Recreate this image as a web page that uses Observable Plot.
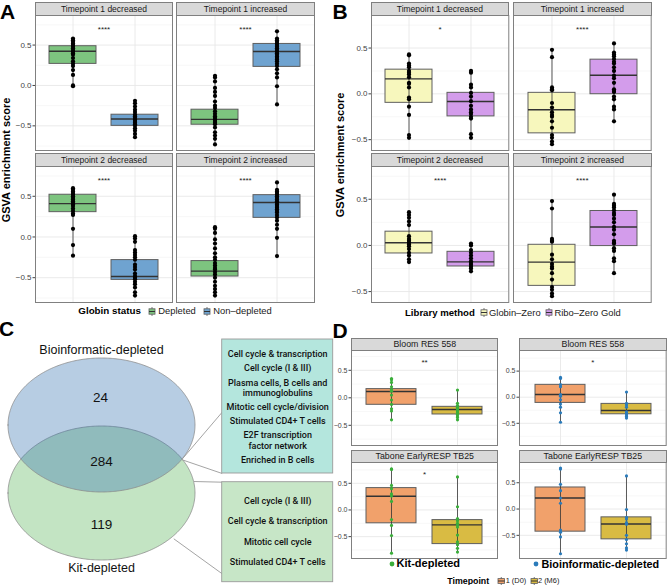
<!DOCTYPE html>
<html><head><meta charset="utf-8">
<script src="https://cdn.jsdelivr.net/npm/d3@7"></script>
<script src="https://cdn.jsdelivr.net/npm/@observablehq/plot@0.6"></script>
<style>
html,body{margin:0;padding:0;background:#fff;}
#fig{position:relative;width:668px;height:585px;overflow:hidden;font-family:"Liberation Sans",Arial,Helvetica,sans-serif;color:#1a1a1a;}
.strip{position:absolute;box-sizing:border-box;background:#d9d9d9;border:1px solid #7f7f7f;color:#1a1a1a;text-align:center;white-space:nowrap;overflow:hidden;}
.t{position:absolute;white-space:nowrap;line-height:1.2;}
</style></head>
<body><div id="fig"></div>
<script>
// ---------------- DATA ----------------
// Panel A: globin status
const aFacets = ["Timepoint 1 decreased","Timepoint 1 increased","Timepoint 2 decreased","Timepoint 2 increased"];
const aGroups = ["Depleted","Non–depleted"];
const aStars = ["****","****","****","****"];
const a1Dep = [0.58,0.56,0.54,0.52,0.50,0.48,0.46,0.44,0.42,0.40,0.38,0.34,0.30,0.27,0.24,0.19,0.13,0.00,-0.01];
const a1Non = [-0.19,-0.22,-0.26,-0.30,-0.33,-0.36,-0.38,-0.40,-0.42,-0.44,-0.46,-0.48,-0.50,-0.53,-0.56,-0.60,-0.64];
const a2Dep = [0.12,0.10,0.05,-0.03,-0.08,-0.13,-0.20,-0.25,-0.28,-0.32,-0.35,-0.38,-0.40,-0.42,-0.44,-0.46,-0.48,-0.52,-0.58,-0.62,-0.66,-0.73];
const a2Non = [0.67,0.58,0.56,0.54,0.52,0.50,0.48,0.46,0.44,0.42,0.40,0.38,0.36,0.34,0.32,0.30,0.27,0.24,0.20,0.15,0.10,-0.01,-0.235];
const a3Dep = [0.60,0.58,0.56,0.54,0.52,0.50,0.48,0.46,0.44,0.42,0.40,0.38,0.35,0.32,0.29,0.27,0.10,-0.10,-0.23];
const a3Non = [0.01,-0.02,-0.06,-0.16,-0.19,-0.22,-0.25,-0.28,-0.34,-0.37,-0.40,-0.45,-0.48,-0.50,-0.52,-0.55,-0.58,-0.62,-0.68,-0.72];
const a4Dep = [0.12,0.10,0.05,-0.03,-0.08,-0.14,-0.20,-0.25,-0.28,-0.32,-0.35,-0.38,-0.40,-0.43,-0.46,-0.50,-0.55,-0.60,-0.64,-0.68,-0.72];
const a4Non = [0.67,0.58,0.56,0.54,0.52,0.50,0.48,0.46,0.44,0.42,0.40,0.38,0.36,0.34,0.32,0.30,0.27,0.24,0.20,0.15,0.10,-0.01,-0.235];
// box stats: [lower whisker, Q1, median, Q3, upper whisker]
const a1Box = [[-0.01,0.267,0.424,0.486,0.58],[-0.64,-0.50,-0.415,-0.362,-0.19]];
const a2Box = [[-0.73,-0.486,-0.42,-0.30,0.12],[-0.235,0.23,0.42,0.514,0.67]];
const a3Box = [[-0.23,0.305,0.41,0.519,0.60],[-0.72,-0.527,-0.486,-0.284,0.01]];
const a4Box = [[-0.72,-0.486,-0.42,-0.296,0.12],[-0.235,0.235,0.424,0.514,0.67]];

// Panel B: library method
const bFacets = ["Timepoint 1 decreased","Timepoint 1 increased","Timepoint 2 decreased","Timepoint 2 increased"];
const bGroups = ["Globin–Zero","Ribo–Zero Gold"];
const bStars = ["*","****","****","****"];
const b1Glo = [0.43,0.42,0.33,0.31,0.29,0.25,0.23,0.21,0.18,0.12,0.11,0.07,-0.04,-0.06,-0.14,-0.23,-0.45,-0.48];
const b1Rib = [0.25,0.23,0.10,0.07,0.01,-0.03,-0.08,-0.13,-0.17,-0.20,-0.22,-0.25,-0.27,-0.44,-0.48];
const b2Glo = [0.48,0.40,0.07,0.05,0.04,-0.10,-0.15,-0.20,-0.23,-0.25,-0.30,-0.37,-0.45,-0.48,-0.52,-0.55];
const b2Rib = [0.55,0.45,0.43,0.41,0.38,0.35,0.33,0.29,0.25,0.20,0.17,0.12,0.05,0.03,0.02,-0.03,-0.06,-0.14,-0.17,-0.30];
const b3Glo = [0.36,0.33,0.30,0.26,0.22,0.10,0.07,0.05,0.03,0.01,-0.01,-0.04,-0.08,-0.11,-0.15,-0.18];
const b3Rib = [0.02,0.00,-0.05,-0.08,-0.11,-0.14,-0.17,-0.19,-0.21,-0.23,-0.25,-0.28];
const b4Glo = [0.48,0.40,0.07,0.05,0.04,-0.10,-0.15,-0.20,-0.23,-0.25,-0.30,-0.37,-0.45,-0.48,-0.52,-0.55];
const b4Rib = [0.55,0.45,0.43,0.41,0.38,0.35,0.33,0.29,0.25,0.20,0.17,0.12,0.05,0.03,0.02,-0.03,-0.06,-0.14,-0.17,-0.30];
const b1Box = [[-0.48,-0.098,0.163,0.264,0.43],[-0.48,-0.246,-0.083,0.011,0.25]];
const b2Box = [[-0.55,-0.431,-0.174,0.011,0.48],[-0.30,-0.004,0.203,0.373,0.55]];
const b3Box = [[-0.18,-0.087,0.029,0.149,0.36],[-0.28,-0.228,-0.178,-0.069,0.02]];
const b4Box = [[-0.55,-0.438,-0.181,0.007,0.48],[-0.30,-0.007,0.20,0.373,0.55]];

// Panel C: Venn diagram
const vennSets = ["Bioinformatic-depleted","Kit-depleted"];
const vennCounts = [24, 284, 119]; // bio only, both, kit only
const sharedTerms = ["Cell cycle & transcription","Cell cycle (I & III)","Plasma cells, B cells and\nimmunoglobulins","Mitotic cell cycle/division","Stimulated CD4+ T cells","E2F transcription\nfactor network","Enriched in B cells"];
const kitTerms = ["Cell cycle (I & III)","Cell cycle & transcription","Mitotic cell cycle","Stimulated CD4+ T cells"];

// Panel D: signatures by timepoint
const dFacets = ["Bloom RES 558","Bloom RES 558","Tabone EarlyRESP TB25","Tabone EarlyRESP TB25"];
const dGroups = ["1 (D0)","2 (M6)"];
const dMethods = ["Kit-depleted","Bioinformatic-depleted"];
const dStars = ["**","*","*",""];
const d1D0 = [0.35,0.33,0.28,0.20,0.15,0.12,0.05,-0.04,-0.12,-0.20,-0.24,-0.40];
const d1M6 = [0.14,-0.10,-0.14,-0.17,-0.20,-0.22,-0.24,-0.27,-0.30,-0.33,-0.36,-0.40];
const d2D0 = [0.38,0.36,0.24,0.20,0.05,0.02,-0.05,-0.13,-0.19,-0.30,-0.48];
const d2M6 = [0.10,-0.12,-0.15,-0.19,-0.28,-0.31,-0.34,-0.37,-0.40];
const d3D0 = [0.77,0.76,0.46,0.40,0.30,0.26,0.16,-0.18,-0.29,-0.48,-0.81];
const d3M6 = [0.62,0.06,-0.16,-0.20,-0.25,-0.28,-0.32,-0.47,-0.60,-0.65,-0.72,-0.79];
const d4D0 = [0.78,0.76,0.47,0.35,0.21,0.11,-0.40,-0.44,-0.53,-0.85];
const d4M6 = [0.63,-0.01,-0.16,-0.19,-0.26,-0.29,-0.50,-0.58,-0.66,-0.74,-0.78];
const d1Box = [[-0.40,-0.127,0.115,0.158,0.35],[-0.40,-0.303,-0.212,-0.164,0.14]];
const d2Box = [[-0.48,-0.109,0.051,0.237,0.38],[-0.40,-0.327,-0.256,-0.128,0.10]];
const d3Box = [[-0.81,-0.25,0.256,0.41,0.77],[-0.79,-0.64,-0.28,-0.19,0.62]];
const d4Box = [[-0.85,-0.43,0.209,0.41,0.78],[-0.78,-0.576,-0.285,-0.158,0.63]];

const majorTicks = [-0.5, 0, 0.5];
const minorTicks = [-0.75, -0.25, 0.25, 0.75];

// ---------------- STYLE / LAYOUT ----------------
const FONT = '"Liberation Sans", Arial, Helvetica, sans-serif';
const colA = ["#7dc47f","#6fa3d0"];
const colB = ["#f7f7bd","#d39ceb"];
const colD = ["#f1a16b","#d9bb43"];
const dotD = ["#3aae3a","#2b7bba"];
const fig = document.getElementById("fig");

function addText(txt, x, y, o = {}) {
  const d = document.createElement("div");
  d.className = "t";
  d.textContent = txt;
  d.style.left = x + "px";
  d.style.top = y + "px";
  d.style.fontSize = (o.size || 10) + "px";
  d.style.fontWeight = o.weight || "normal";
  d.style.color = o.color || "#1a1a1a";
  if (o.lh) d.style.lineHeight = o.lh;
  let tr = o.anchor === "middle" ? "translate(-50%,-50%)" : "translate(0,-50%)";
  if (o.rotate) tr += " rotate(" + o.rotate + "deg)";
  d.style.transform = tr;
  fig.appendChild(d);
  return d;
}

function addStrip(x0, x1, y0, y1, label, fs) {
  const d = document.createElement("div");
  d.className = "strip";
  d.style.left = x0 + "px";
  d.style.top = y0 + "px";
  d.style.width = (x1 - x0 + 1) + "px";
  d.style.height = (y1 - y0 + 1) + "px";
  d.style.lineHeight = (y1 - y0 - 1) + "px";
  d.style.fontSize = fs + "px";
  d.textContent = label;
  fig.appendChild(d);
}

function addFacet(c) {
  const mL = c.axis ? 30 : 1;
  const w = c.x1 - c.x0, h = c.y1 - c.y0;
  const stats = c.groups.map((g, i) => ({g, lo: c.box[i][0], q1: c.box[i][1], med: c.box[i][2], q3: c.box[i][3], hi: c.box[i][4], fill: c.fills[i]}));
  const dots = c.groups.flatMap((g, i) => c.pts[i].map(v => ({g, v})));
  const minor = minorTicks.filter(t => t > c.domain[0] && t < c.domain[1]);
  const svg = Plot.plot({
    width: w + mL + 1, height: h + 2,
    marginLeft: mL, marginRight: 1, marginTop: 1, marginBottom: 1,
    style: {background: "transparent", fontFamily: FONT, overflow: "visible"},
    x: {type: "band", domain: c.groups, paddingInner: 0.25, paddingOuter: 0.225, axis: null},
    y: {domain: c.domain, axis: null, label: null},
    color: {type: "identity"},
    marks: [
      Plot.gridY(minor, {stroke: "#f2f2f2", strokeOpacity: 1, strokeWidth: 0.6}),
      Plot.gridY(majorTicks, {stroke: "#e8e8e8", strokeOpacity: 1, strokeWidth: 0.9}),
      Plot.gridX(c.groups, {stroke: "#e8e8e8", strokeOpacity: 1, strokeWidth: 0.9}),
      Plot.barY(stats, {x: "g", y1: "q1", y2: "q3", fill: "fill", stroke: "#5e5e5e", strokeWidth: 1}),
      Plot.tickY(stats, {x: "g", y: "med", stroke: "#333", strokeWidth: 1.4}),
      Plot.ruleX(stats, {x: "g", y1: "lo", y2: "hi", stroke: "#333", strokeWidth: 0.8}),
      Plot.dot(dots, {x: "g", y: "v", r: c.dotR, fill: c.dotFill, stroke: "none"}),
      c.star ? Plot.text([c.star], {frameAnchor: "top", dy: c.starDy, fontSize: 8, fill: "#222"}) : null,
      c.axis ? Plot.axisY(majorTicks, {tickFormat: d3.format(".1f"), tickSize: 2.5, tickPadding: 1.5, fontSize: c.tickFs, color: "#444", label: null}) : null,
      Plot.frame({stroke: "#808080", strokeWidth: 1})
    ].filter(Boolean)
  });
  svg.style.position = "absolute";
  svg.style.left = (c.x0 - mL) + "px";
  svg.style.top = (c.y0 - 1) + "px";
  fig.appendChild(svg);
  addStrip(c.x0, c.x1, c.sy, c.y0, c.label, c.stripFs);
}

// ---------- Panel A ----------
const aCols = [[35, 172], [176, 314]];
const abRows = [[2, 15, 150], [153, 166, 302]];
const aPts = [[a1Dep, a1Non], [a2Dep, a2Non], [a3Dep, a3Non], [a4Dep, a4Non]];
const aBoxes = [a1Box, a2Box, a3Box, a4Box];
aFacets.forEach((label, i) => {
  const col = aCols[i % 2], row = abRows[Math.floor(i / 2)];
  addFacet({x0: col[0], x1: col[1], sy: row[0], y0: row[1], y1: row[2], domain: [-0.805, 0.866],
    groups: aGroups, box: aBoxes[i], pts: aPts[i], fills: colA, dotFill: "#000", dotR: 2.1,
    axis: i % 2 === 0, tickFs: 8, star: aStars[i], starDy: 11, label, stripFs: 8.5});
});

// ---------- Panel B ----------
const bCols = [[370.7, 508], [513, 650.7]];
const bPts = [[b1Glo, b1Rib], [b2Glo, b2Rib], [b3Glo, b3Rib], [b4Glo, b4Rib]];
const bBoxes = [b1Box, b2Box, b3Box, b4Box];
bFacets.forEach((label, i) => {
  const col = bCols[i % 2], row = abRows[Math.floor(i / 2)];
  addFacet({x0: col[0], x1: col[1], sy: row[0], y0: row[1], y1: row[2], domain: [-0.618, 0.855],
    groups: bGroups, box: bBoxes[i], pts: bPts[i], fills: colB, dotFill: "#000", dotR: 2.1,
    axis: i % 2 === 0, tickFs: 8, star: bStars[i], starDy: 11, label, stripFs: 8.5});
});

// ---------- Panel D ----------
const dCols = [[351.3, 497.3], [519, 665.7]];
const dRows = [[337.7, 350, 445], [450, 461.7, 557.7]];
const dDomains = [[-0.867, 0.86], [-0.925, 0.895], [-0.91, 0.89], [-0.94, 0.885]];
const dPts = [[d1D0, d1M6], [d2D0, d2M6], [d3D0, d3M6], [d4D0, d4M6]];
const dBoxes = [d1Box, d2Box, d3Box, d4Box];
dFacets.forEach((label, i) => {
  const col = dCols[i % 2], row = dRows[Math.floor(i / 2)];
  addFacet({x0: col[0], x1: col[1], sy: row[0], y0: row[1], y1: row[2], domain: dDomains[i],
    groups: dGroups, box: dBoxes[i], pts: dPts[i], fills: colD, dotFill: dotD[i % 2], dotR: 1.6,
    axis: true, tickFs: 7, star: dStars[i], starDy: 8.5, label, stripFs: 8.8});
});

// ---------- Panel C (Venn) ----------
const ellBio = {cx: 101.5, cy: 425, rx: 93.5, ry: 67};
const ellKit = {cx: 101.5, cy: 493, rx: 93.5, ry: 67};
function ellipsePts(e) {
  return d3.range(0, 241).map(k => {
    const t = Math.PI * (1 - k / 240);
    return {x: e.cx + e.rx * Math.cos(t), y1: e.cy - e.ry * Math.sin(t), y2: e.cy + e.ry * Math.sin(t)};
  });
}
const countPos = [{x: 100, y: 397}, {x: 101, y: 461}, {x: 101, y: 524}];
const setLabelPos = [{x: 101, y: 349}, {x: 101, y: 567}];
const boxShared = {x1: 221.7, x2: 332.7, y1: 339, y2: 473, fill: "#b4e6dd"};
const boxKit = {x1: 221.7, x2: 332.7, y1: 481.7, y2: 581.7, fill: "#c7e6c7"};
const connectors = [
  {x1: 181.7, y1: 458.6, x2: 221.7, y2: 411.7},
  {x1: 181.7, y1: 459.3, x2: 221.7, y2: 473},
  {x1: 193.5, y1: 481, x2: 221.7, y2: 481.7},
  {x1: 173.3, y1: 538.3, x2: 221.7, y2: 573.3}
];
function layoutTerms(terms, y0, step, lh) {
  let y = y0;
  return terms.map(t => {
    const n = t.split("\n").length;
    const c = y + (n - 1) * lh / 2;
    y += (n - 1) * lh + step;
    return {text: t, x: 277.2, y: c};
  });
}
const sharedLab = layoutTerms(sharedTerms, 353.3, 14.2, 10.35);
const kitLab = layoutTerms(kitTerms, 500, 20.5, 10.35);
const vennPlot = Plot.plot({
  width: 334, height: 295, margin: 0,
  x: {domain: [0, 334], range: [0, 334], axis: null},
  y: {domain: [290, 585], range: [0, 295], axis: null},
  style: {background: "transparent", fontFamily: FONT, overflow: "visible"},
  marks: [
    Plot.areaY(ellipsePts(ellKit), {x: "x", y1: "y1", y2: "y2", fill: "#c3e4c3", stroke: "#8c8c8c", strokeWidth: 0.8}),
    Plot.areaY(ellipsePts(ellBio), {x: "x", y1: "y1", y2: "y2", fill: "#3170af", fillOpacity: 0.35, stroke: "#8c8c8c", strokeWidth: 0.8}),
    Plot.link(connectors, {x1: "x1", y1: "y1", x2: "x2", y2: "y2", stroke: "#9a9a9a", strokeWidth: 0.9}),
    Plot.rect([boxShared], {x1: "x1", x2: "x2", y1: "y1", y2: "y2", fill: boxShared.fill, stroke: "#9a9a9a", strokeWidth: 0.9}),
    Plot.rect([boxKit], {x1: "x1", x2: "x2", y1: "y1", y2: "y2", fill: boxKit.fill, stroke: "#9a9a9a", strokeWidth: 0.9}),
    Plot.text(vennCounts, {x: (d, i) => countPos[i].x, y: (d, i) => countPos[i].y, text: d => String(d), fontSize: 13.5, fill: "#111"}),
    Plot.text(vennSets, {x: (d, i) => setLabelPos[i].x, y: (d, i) => setLabelPos[i].y, text: d => d, fontSize: 12.5, fill: "#111"}),
    Plot.text(sharedLab.concat(kitLab), {x: "x", y: "y", text: "text", fontSize: 9, lineHeight: 1.15, fill: "#111",
      fontFamily: 'Roboto, "Liberation Sans", Arial, sans-serif', fontWeight: 500})
  ]
});
vennPlot.style.position = "absolute";
vennPlot.style.left = "0px";
vennPlot.style.top = "290px";
fig.appendChild(vennPlot);

// ---------- Panel letters and axis titles ----------
addText("A", 0, 12, {size: 21, weight: "bold", color: "#000", lh: 0.8});
addText("B", 332.5, 12, {size: 21, weight: "bold", color: "#000", lh: 0.8});
addText("C", -1, 329, {size: 21, weight: "bold", color: "#000", lh: 0.8});
addText("D", 332.5, 331, {size: 21, weight: "bold", color: "#000", lh: 0.8});
addText("GSVA enrichment score", 7, 160, {size: 11, weight: "bold", anchor: "middle", rotate: -90, color: "#000"});
addText("GSVA enrichment score", 340.7, 155, {size: 11, weight: "bold", anchor: "middle", rotate: -90, color: "#000"});

// ---------- Legends ----------
function boxKey(x, y, fill, w = 6, h = 9) {
  const s = d3.create("svg").attr("width", w + 2).attr("height", h + 2)
    .style("position", "absolute").style("left", (x - 1) + "px").style("top", (y - h / 2 - 1) + "px");
  s.append("line").attr("x1", 1 + w / 2).attr("x2", 1 + w / 2).attr("y1", 1).attr("y2", h + 1).attr("stroke", "#555").attr("stroke-width", 0.8);
  s.append("rect").attr("x", 1).attr("y", 1 + h * 0.2).attr("width", w).attr("height", h * 0.6).attr("fill", fill).attr("stroke", "#5e5e5e").attr("stroke-width", 0.8);
  s.append("line").attr("x1", 1).attr("x2", 1 + w).attr("y1", 1 + h / 2).attr("y2", 1 + h / 2).attr("stroke", "#333").attr("stroke-width", 1);
  fig.appendChild(s.node());
}
addText("Globin status", 78.3, 311, {size: 9.8, weight: "bold", color: "#000"});
boxKey(149.3, 311, colA[0]); addText(aGroups[0], 158.3, 311, {size: 9.4});
boxKey(204, 311, colA[1]); addText(aGroups[1], 213.3, 311, {size: 9.4});

addText("Library method", 405, 312.7, {size: 9.6, weight: "bold", color: "#000"});
boxKey(480.7, 312.7, colB[0]); addText(bGroups[0], 489, 312.7, {size: 9.4});
boxKey(545.7, 312.7, colB[1]); addText(bGroups[1], 554.5, 312.7, {size: 9.4});

function dotKey(x, y, fill) {
  const s = d3.create("svg").attr("width", 6).attr("height", 6)
    .style("position", "absolute").style("left", (x - 3) + "px").style("top", (y - 3) + "px");
  s.append("circle").attr("cx", 3).attr("cy", 3).attr("r", 2.4).attr("fill", fill);
  fig.appendChild(s.node());
}
dotKey(391.7, 564.3, dotD[0]); addText(dMethods[0], 396.5, 564.3, {size: 11, weight: "bold", color: "#000"});
dotKey(535.7, 564.3, dotD[1]); addText(dMethods[1], 541.5, 564.3, {size: 10.8, weight: "bold", color: "#000"});
addText("Timepoint", 447.3, 580.5, {size: 8.8, weight: "bold", color: "#000"});
boxKey(497.5, 580.5, colD[0], 6.5, 8); addText(dGroups[0], 505.7, 580.5, {size: 7.4});
boxKey(530.7, 580.5, colD[1], 6.5, 8); addText(dGroups[1], 538, 580.5, {size: 7.4});
</script>
</body></html>
